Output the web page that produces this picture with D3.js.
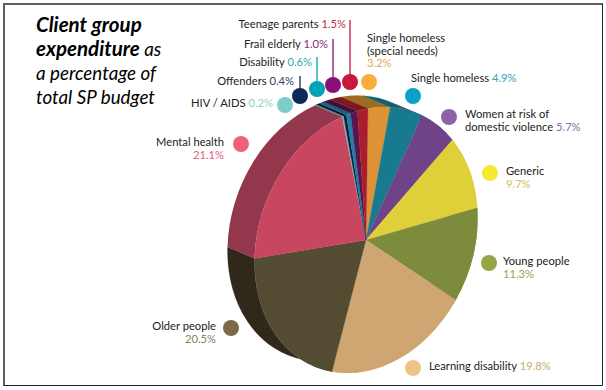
<!DOCTYPE html>
<html>
<head>
<meta charset="utf-8">
<script src="https://d3js.org/d3.v7.min.js"></script>
<style>
	html, body { margin: 0; padding: 0; background: #fff; }
	svg { display: block; }
	text { font-family: Lato, sans-serif; font-size: 11.2px; fill: #222; }
</style>
</head>
<body>
<script>
// Slices in clockwise order, starting at the orange one
const categories = ['Single homeless (special needs)', 'Single homeless', 'Women at risk of domestic violence', 'Generic', 'Young people', 'Learning disability', 'Older people', 'Mental health', 'HIV / AIDS', 'Offenders', 'Disability', 'Frail elderly', 'Teenage parents'];
const values = [3.2, 4.9, 5.7, 9.7, 11.3, 19.8, 20.5, 21.1, 0.2, 0.4, 0.6, 1.0, 1.5];
const faceColors = ['#dd9236', '#177a8f', '#6f4387', '#dfcf38', '#7d8c3c', '#cfa671', '#544b33', '#c8465f', '#6fbcb4', '#0c1c3a', '#1f7ea8', '#5a1650', '#a81f2b'];
const wallColors = ['#9c6c22', '#11606f', '#6f4387', '#dfcf38', '#7d8c3c', '#cfa671', '#30281a', 'url(#mentalWall)', '#4d918b', '#060f22', '#17638a', '#40103c', '#7f1620'];
const dotColors = ['#f9ae3d', '#0aa0c8', '#8c62aa', '#f5e933', '#97a644', '#eec385', '#7b6a48', '#f0607c', '#7ecdc8', '#0d2a56', '#00a3b4', '#8a0f78', '#c8173c'];
const pctColors = ['#dfa95a', '#3da0b8', '#8c6aa8', '#cfc25a', '#97a35c', '#c9a878', '#8a7d62', '#e0607a', '#8fd0ca', '#2a4060', '#33a5b5', '#8a2a80', '#c8284a'];

// Label layout, one row per slice: anchor, x, first baseline, text lines
const labelAnchor = ['start', 'start', 'start', 'start', 'start', 'start', 'end', 'end', 'end', 'end', 'end', 'end', 'end'];
const labelX = [367, 411, 465, 506, 503, 429, 216, 224, 273, 294, 312, 328, 346];
const labelY = [42, 82, 118, 175, 265, 370, 330, 146, 107, 85, 66, 47.5, 28];
const labelLines = [['Single homeless', '(special needs)', ''], ['Single homeless '], ['Women at risk of', 'domestic violence '], ['Generic', ''], ['Young people', ''], ['Learning disability '], ['Older people', ''], ['Mental health', ''], ['HIV / AIDS '], ['Offenders '], ['Disability '], ['Frail elderly '], ['Teenage parents ']];
const dotX = [369, 413, 449, 490, 489, 413, 231, 241, 285, 300, 317, 333, 350];
const dotY = [82, 96, 117, 173, 263, 368, 328, 144, 105, 96, 89, 85, 82];
// Leader lines run from this y down to the dot, 0 means no line
const leaderTop = [0, 0, 0, 0, 0, 0, 0, 0, 0, 76, 57, 39, 20];

const width = 606;
const height = 390;
const R = 100;
// The pie is a tilted disc, so the flat d3 arcs go through one affine matrix
const tilt = [1.099, 0, -0.1863, 1.329, 366, 240];
const startAngle = -8.6 * Math.PI / 180;
// Depth of the wall, in screen pixels
const depthX = -27;
const depthY = -11.5;

const svg = d3.select('body')
	.append('svg')
	.attr('width', width)
	.attr('height', height);

const grad = svg.append('defs').append('linearGradient')
	.attr('id', 'mentalWall')
	.attr('gradientUnits', 'userSpaceOnUse')
	.attr('x1', 0).attr('y1', 100)
	.attr('x2', 0).attr('y2', 250);
grad.append('stop').attr('offset', 0).attr('stop-color', '#93374d');
grad.append('stop').attr('offset', 1).attr('stop-color', '#6a1f35');

// Frame, heavier and greyer on the top and left
svg.append('path')
	.attr('d', 'M4,386V4H603')
	.attr('fill', 'none')
	.attr('stroke', '#5f5f5f')
	.attr('stroke-width', 2);
svg.append('path')
	.attr('d', 'M602.5,4V385.5H4')
	.attr('fill', 'none')
	.attr('stroke', '#222')
	.attr('stroke-width', 1);

// Title
const title = svg.append('text')
	.style('font-size', '18.8px')
	.style('font-style', 'italic')
	.style('fill', '#000');
title.append('tspan').attr('x', 36).attr('y', 32).style('font-weight', 700).style('font-size', '20.5px').text('Client group');
title.append('tspan').attr('x', 36).attr('y', 56).style('font-weight', 700).style('font-size', '20.5px').text('expenditure');
title.append('tspan').text(' as');
title.append('tspan').attr('x', 36).attr('y', 80).text('a percentage of');
title.append('tspan').attr('x', 36).attr('y', 104).text('total SP budget');

const slices = d3.pie()
	.sort(null)
	.startAngle(startAngle)
	.endAngle(startAngle + 2 * Math.PI)(values);

const arc = d3.arc().innerRadius(0).outerRadius(R);

// Undo the matrix on the depth vector, the wall is built in disc coordinates
const det = tilt[0] * tilt[3] - tilt[1] * tilt[2];
const dx = (tilt[3] * depthX - tilt[2] * depthY) / det;
const dy = (tilt[0] * depthY - tilt[1] * depthX) / det;

function wallPath(d) {
	const a0 = d.startAngle - Math.PI / 2;
	const a1 = d.endAngle - Math.PI / 2;
	const p = d3.path();
	p.arc(0, 0, R, a0, a1);
	p.arc(dx, dy, R, a1, a0, true);
	p.closePath();
	return p.toString();
}

const pie = svg.append('g')
	.attr('transform', `matrix(${tilt.join(',')})`);

pie.selectAll('path.wall')
	.data(slices)
	.enter()
	.append('path')
	.attr('class', 'wall')
	.attr('d', wallPath)
	.attr('fill', (d, i) => wallColors[i])
	.attr('stroke', (d, i) => wallColors[i].startsWith('url') ? 'none' : wallColors[i])
	.attr('stroke-width', 0.2);

pie.selectAll('path.face')
	.data(slices)
	.enter()
	.append('path')
	.attr('class', 'face')
	.attr('d', arc)
	.attr('fill', (d, i) => faceColors[i])
	.attr('stroke', (d, i) => faceColors[i])
	.attr('stroke-width', 0.2);

// Leader lines and dots
categories.forEach((c, i) => {
	if (leaderTop[i] > 0) {
		svg.append('line')
			.attr('x1', dotX[i])
			.attr('x2', dotX[i])
			.attr('y1', leaderTop[i])
			.attr('y2', dotY[i])
			.attr('stroke', dotColors[i])
			.attr('stroke-width', 1.3);
	}
});

svg.selectAll('circle.dot')
	.data(categories)
	.enter()
	.append('circle')
	.attr('class', 'dot')
	.attr('cx', (d, i) => dotX[i])
	.attr('cy', (d, i) => dotY[i])
	.attr('r', 8)
	.attr('fill', (d, i) => dotColors[i]);

// Labels, the percentage follows the last line in the slice's colour.
// An empty last line puts it on a row of its own.
const lineHeight = 12.7;
categories.forEach((c, i) => {
	const t = svg.append('text')
		.attr('text-anchor', labelAnchor[i]);
	const lines = labelLines[i];
	lines.forEach((line, j) => {
		if (line !== '') {
			t.append('tspan')
				.attr('x', labelX[i])
				.attr('y', labelY[i] + j * lineHeight)
				.text(line);
		}
	});
	const last = lines.length - 1;
	const pct = t.append('tspan')
		.style('fill', pctColors[i])
		.text(values[i].toFixed(1) + '%');
	if (lines[last] === '') {
		pct.attr('x', labelX[i]).attr('y', labelY[i] + last * lineHeight);
	}
});
</script>
</body>
</html>
